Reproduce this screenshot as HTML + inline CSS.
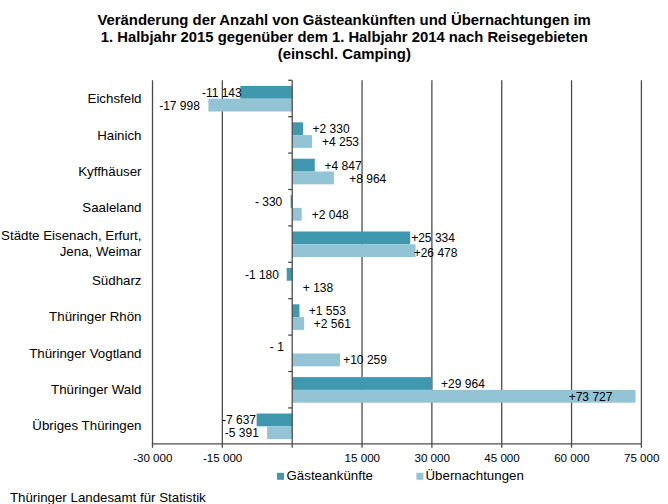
<!DOCTYPE html>
<html><head><meta charset="utf-8"><style>
html,body{margin:0;padding:0;background:#fff;width:668px;height:504px;overflow:hidden;}
svg{display:block;}
</style></head><body>
<svg width="668" height="504" viewBox="0 0 668 504">
<rect x="0" y="0" width="668" height="504" fill="#ffffff"/>
<g font-family="Liberation Sans, sans-serif" font-weight="bold" font-size="14.9" fill="#000" text-anchor="middle">
<text x="344.1" y="25.2">Veränderung der Anzahl von Gästeankünften und Übernachtungen im</text>
<text x="344.3" y="42.1" font-size="14.8">1. Halbjahr 2015 gegenüber dem 1. Halbjahr 2014 nach Reisegebieten</text>
<text x="344.3" y="59">(einschl. Camping)</text>
</g>
<line x1="152.52" y1="80.3" x2="152.52" y2="447.7" stroke="#4c4c4c" stroke-width="1.3"/>
<line x1="222.36" y1="80.3" x2="222.36" y2="447.7" stroke="#4c4c4c" stroke-width="1.3"/>
<line x1="362.04" y1="80.3" x2="362.04" y2="447.7" stroke="#4c4c4c" stroke-width="1.3"/>
<line x1="431.88" y1="80.3" x2="431.88" y2="447.7" stroke="#4c4c4c" stroke-width="1.3"/>
<line x1="501.72" y1="80.3" x2="501.72" y2="447.7" stroke="#4c4c4c" stroke-width="1.3"/>
<line x1="571.56" y1="80.3" x2="571.56" y2="447.7" stroke="#4c4c4c" stroke-width="1.3"/>
<line x1="641.4" y1="80.3" x2="641.4" y2="447.7" stroke="#4c4c4c" stroke-width="1.3"/>
<rect x="240.32" y="85.9" width="51.88" height="12.8" fill="#3f98ae"/>
<rect x="208.4" y="98.7" width="83.8" height="12.8" fill="#93c4d5"/>
<rect x="292.2" y="122.3" width="10.85" height="12.8" fill="#3f98ae"/>
<rect x="292.2" y="135.1" width="19.8" height="12.8" fill="#93c4d5"/>
<rect x="292.2" y="158.7" width="22.57" height="12.8" fill="#3f98ae"/>
<rect x="292.2" y="171.5" width="41.74" height="12.8" fill="#93c4d5"/>
<rect x="290.66" y="195.1" width="1.54" height="12.8" fill="#3f98ae"/>
<rect x="292.2" y="207.9" width="9.54" height="12.8" fill="#93c4d5"/>
<rect x="292.2" y="231.5" width="117.96" height="12.8" fill="#3f98ae"/>
<rect x="292.2" y="244.3" width="123.28" height="12.8" fill="#93c4d5"/>
<rect x="286.71" y="267.9" width="5.49" height="12.8" fill="#3f98ae"/>
<rect x="292.2" y="280.7" width="0.64" height="12.8" fill="#93c4d5"/>
<rect x="292.2" y="304.3" width="7.23" height="12.8" fill="#3f98ae"/>
<rect x="292.2" y="317.1" width="11.92" height="12.8" fill="#93c4d5"/>
<rect x="292.2" y="340.7" width="0" height="12.8" fill="#3f98ae"/>
<rect x="292.2" y="353.5" width="47.77" height="12.8" fill="#93c4d5"/>
<rect x="292.2" y="377.1" width="139.51" height="12.8" fill="#3f98ae"/>
<rect x="292.2" y="389.9" width="343.27" height="12.8" fill="#93c4d5"/>
<rect x="256.64" y="413.5" width="35.56" height="12.8" fill="#3f98ae"/>
<rect x="267.1" y="426.3" width="25.1" height="12.8" fill="#93c4d5"/>
<line x1="151.87" y1="443.9" x2="642.05" y2="443.9" stroke="#4c4c4c" stroke-width="1.3"/>
<line x1="292.2" y1="80.3" x2="292.2" y2="447.7" stroke="#4c4c4c" stroke-width="1.3"/>
<line x1="288.2" y1="80.3" x2="292.2" y2="80.3" stroke="#4c4c4c" stroke-width="1.3"/>
<line x1="288.2" y1="116.7" x2="292.2" y2="116.7" stroke="#4c4c4c" stroke-width="1.3"/>
<line x1="288.2" y1="153.1" x2="292.2" y2="153.1" stroke="#4c4c4c" stroke-width="1.3"/>
<line x1="288.2" y1="189.5" x2="292.2" y2="189.5" stroke="#4c4c4c" stroke-width="1.3"/>
<line x1="288.2" y1="225.9" x2="292.2" y2="225.9" stroke="#4c4c4c" stroke-width="1.3"/>
<line x1="288.2" y1="262.3" x2="292.2" y2="262.3" stroke="#4c4c4c" stroke-width="1.3"/>
<line x1="288.2" y1="298.7" x2="292.2" y2="298.7" stroke="#4c4c4c" stroke-width="1.3"/>
<line x1="288.2" y1="335.1" x2="292.2" y2="335.1" stroke="#4c4c4c" stroke-width="1.3"/>
<line x1="288.2" y1="371.5" x2="292.2" y2="371.5" stroke="#4c4c4c" stroke-width="1.3"/>
<line x1="288.2" y1="407.9" x2="292.2" y2="407.9" stroke="#4c4c4c" stroke-width="1.3"/>
<g font-family="Liberation Sans, sans-serif" font-size="13.3" fill="#000" text-anchor="end">
<text x="141.5" y="103.4">Eichsfeld</text>
<text x="141.5" y="139.7">Hainich</text>
<text x="141.5" y="176">Kyffhäuser</text>
<text x="141.5" y="212.3">Saaleland</text>
<text x="141.5" y="240.4">Städte Eisenach, Erfurt,</text>
<text x="141.5" y="255.8">Jena, Weimar</text>
<text x="141.5" y="284.9">Südharz</text>
<text x="141.5" y="321.2">Thüringer Rhön</text>
<text x="141.5" y="357.5">Thüringer Vogtland</text>
<text x="141.5" y="393.8">Thüringer Wald</text>
<text x="141.5" y="430.1">Übriges Thüringen</text>
</g>
<g font-family="Liberation Sans, sans-serif" font-size="12" fill="#000">
<text x="201.9" y="97">-11 143</text>
<text x="159.2" y="110">-17 998</text>
<text x="312.6" y="133">+2 330</text>
<text x="322" y="146">+4 253</text>
<text x="324.6" y="170">+4 847</text>
<text x="349.2" y="183">+8 964</text>
<text x="254.9" y="206">- 330</text>
<text x="311.7" y="219">+2 048</text>
<text x="411.2" y="242">+25 334</text>
<text x="413.7" y="257">+26 478</text>
<text x="244.9" y="279">-1 180</text>
<text x="302.8" y="292">+ 138</text>
<text x="308.8" y="315">+1 553</text>
<text x="313.8" y="328">+2 561</text>
<text x="269.8" y="351">- 1</text>
<text x="343.2" y="363.9">+10 259</text>
<text x="441.1" y="388">+29 964</text>
<text x="568.7" y="401">+73 727</text>
<text x="222" y="424">-7 637</text>
<text x="224.8" y="437">-5 391</text>
</g>
<g font-family="Liberation Sans, sans-serif" font-size="11.6" fill="#000" text-anchor="middle">
<text x="152.82" y="461.9">-30 000</text>
<text x="222.66" y="461.9">-15 000</text>
<text x="362.34" y="461.9">15 000</text>
<text x="432.18" y="461.9">30 000</text>
<text x="502.02" y="461.9">45 000</text>
<text x="571.86" y="461.9">60 000</text>
<text x="641.7" y="461.9">75 000</text>
</g>
<rect x="277" y="472.8" width="7" height="7" fill="#3f98ae"/>
<rect x="416.4" y="472.8" width="7" height="7" fill="#93c4d5"/>
<g font-family="Liberation Sans, sans-serif" font-size="13.3" fill="#000">
<text x="286.5" y="479.5">Gästeankünfte</text>
<text x="425.5" y="479.5">Übernachtungen</text>
<text x="9.9" y="501.5">Thüringer Landesamt für Statistik</text>
</g>
</svg>
</body></html>
